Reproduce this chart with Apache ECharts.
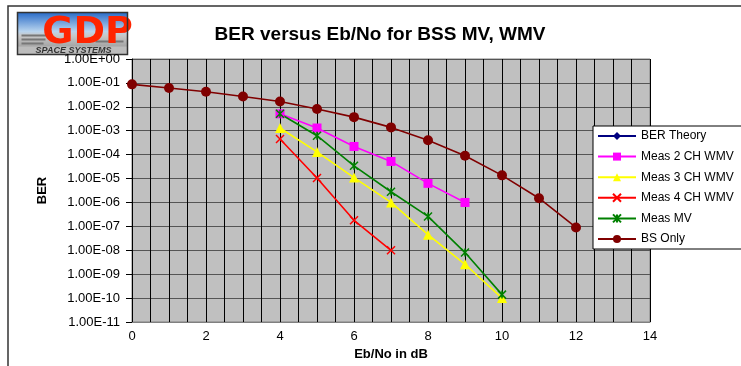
<!DOCTYPE html>
<html>
<head>
<meta charset="utf-8">
<script src="https://cdn.jsdelivr.net/npm/echarts@6/dist/echarts.min.js"></script>
<style>
html, body { margin: 0; padding: 0; background: #fff; }
#main { width: 741px; height: 366px; }
</style>
</head>
<body>
<div id="main"></div>
<script>
// Eb/No in dB
var ebNo = [0, 1, 2, 3, 4, 5, 6, 7, 8, 9, 10, 11, 12];
var berTheory = [];
var meas2ch = [null, null, null, null, 5.1e-3, 1.3e-3, 2.2e-4, 5.2e-5, 6.3e-6, 1.0e-6];
var meas3ch = [null, null, null, null, 1.3e-3, 1.3e-4, 1.1e-5, 1.0e-6, 4.5e-8, 2.6e-9, 1.0e-10];
var meas4ch = [null, null, null, null, 4.5e-4, 1.05e-5, 1.8e-7, 1.0e-8];
var measMV = [null, null, null, null, 5.1e-3, 6.2e-4, 3.4e-5, 2.8e-6, 2.6e-7, 8.0e-9, 1.4e-10];
var bsOnly = [0.087, 0.061, 0.043, 0.027, 0.0166, 0.0081, 0.0037, 0.00138, 4.0e-4, 9.0e-5, 1.36e-5, 1.5e-6, 9.0e-8];

var xMarker = 'path://M0,0L10,10M10,0L0,10';
var starMarker = 'path://M0,0L10,10M10,0L0,10M5,0L5,10';

function pairs(vals) {
    var out = [];
    for (var i = 0; i < vals.length; i++) {
        if (vals[i] != null) out.push([ebNo[i], vals[i]]);
    }
    return out;
}

function sciLabel(v) {
    var e = Math.round(Math.log10(v));
    var s = Math.abs(e) < 10 ? '0' + Math.abs(e) : '' + Math.abs(e);
    return '1.00E' + (e < 0 ? '-' : '+') + s;
}

var chart = echarts.init(document.getElementById('main'), null, { renderer: 'canvas' });

function lineSeries(name, vals, color, symbol, size, stroke) {
    return {
        name: name,
        type: 'line',
        data: pairs(vals),
        symbol: symbol,
        symbolSize: size,
        showSymbol: true,
        lineStyle: { color: color, width: 1.6 },
        itemStyle: stroke ? { color: color, borderColor: color, borderWidth: 1.5 } : { color: color },
        emphasis: { disabled: true },
        animation: false
    };
}

var option = {
    animation: false,
    textStyle: { fontFamily: 'Liberation Sans, Arial, sans-serif' },
    title: {
        text: 'BER versus Eb/No for BSS MV, WMV',
        left: 375,
        top: 20,
        textAlign: 'center',
        textStyle: { fontSize: 19, fontWeight: 'bold', color: '#000', letterSpacing: 0.3 }
    },
    grid: {
        left: 132, right: 91, top: 59, bottom: 43,
        show: true, backgroundColor: '#c0c0c0', borderColor: '#808080', borderWidth: 1
    },
    legend: {
        orient: 'vertical',
        left: 593,
        top: 126,
        backgroundColor: '#fff',
        borderColor: '#000',
        borderWidth: 1,
        borderRadius: 0,
        padding: [3, 12, 3, 4],
        itemWidth: 38,
        itemHeight: 10,
        itemGap: 6.6,
        textStyle: { fontSize: 12, color: '#000', lineHeight: 14, letterSpacing: 0.5 },
        data: ['BER Theory', 'Meas 2 CH WMV', 'Meas 3 CH WMV', 'Meas 4 CH WMV', 'Meas MV', 'BS Only']
    },
    xAxis: {
        type: 'value',
        min: 0, max: 14, interval: 0.5,
        name: 'Eb/No in dB',
        nameLocation: 'middle',
        nameGap: 26,
        nameTextStyle: { fontSize: 13, fontWeight: 'bold', color: '#000' },
        axisLine: { lineStyle: { color: '#808080' } },
        axisTick: { show: false },
        axisLabel: {
            color: '#000', fontSize: 13, margin: 8,
            formatter: function (v) { return (v % 2 === 0) ? '' + v : ''; }
        },
        splitLine: { show: true, lineStyle: { color: '#000', width: 1 } }
    },
    yAxis: {
        type: 'log',
        logBase: 10,
        min: 1e-11, max: 1,
        interval: 1,
        name: 'BER',
        nameLocation: 'middle',
        nameGap: 83,
        nameRotate: 90,
        nameTextStyle: { fontSize: 13, fontWeight: 'bold', color: '#000' },
        axisLine: { show: true, lineStyle: { color: '#000' } },
        axisTick: { show: true, length: 6, lineStyle: { color: '#000' } },
        axisLabel: { color: '#000', fontSize: 13, margin: 12, letterSpacing: 0.8, formatter: sciLabel },
        splitLine: { show: true, lineStyle: { color: '#555', width: 1 } }
    },
    graphic: [
        { type: 'polyline', shape: { points: [[8, 366], [8, 6], [741, 6]] }, style: { stroke: '#333', lineWidth: 1.5, fill: null } },
        {
            type: 'group', left: 15, top: 10,
            children: [
                { type: 'rect', shape: { x: 0, y: 0, width: 110, height: 42 },
                  style: { fill: new echarts.graphic.LinearGradient(0, 0, 0, 1, [
                      { offset: 0, color: '#2a6cc8' }, { offset: 0.45, color: '#b8d4ee' },
                      { offset: 0.55, color: '#c8c8c8' }, { offset: 1, color: '#8a8a8a' }]) } },
                { type: 'rect', shape: { x: 4, y: 22, width: 26, height: 2 }, style: { fill: '#777' } },
                { type: 'rect', shape: { x: 4, y: 26, width: 24, height: 2 }, style: { fill: '#777' } },
                { type: 'rect', shape: { x: 4, y: 30, width: 22, height: 2 }, style: { fill: '#777' } },
                { type: 'rect', shape: { x: 78, y: 28, width: 28, height: 2 }, style: { fill: '#777' } },
                { type: 'text', x: 70, y: 2,
                  style: { text: 'GDP', fill: '#ff2400', font: 'bold 38px "DejaVu Sans", sans-serif', align: 'center', verticalAlign: 'top' } },
                { type: 'rect', shape: { x: 0, y: 34, width: 110, height: 8 }, style: { fill: '#bcbcbc' } },
                { type: 'text', x: 56, y: 38.5,
                  style: { text: 'SPACE SYSTEMS', fill: '#333', font: 'italic bold 9px "Liberation Sans", sans-serif', letterSpacing: 1.2, align: 'center', verticalAlign: 'middle' } },
                { type: 'rect', shape: { x: 0, y: 0, width: 110, height: 42 }, style: { fill: null, stroke: '#333', lineWidth: 1.5 } }
            ]
        }
    ],
    series: [
        lineSeries('BER Theory', berTheory, '#000080', 'diamond', 7, false),
        lineSeries('Meas 2 CH WMV', meas2ch, '#ff00ff', 'rect', 9, false),
        lineSeries('Meas 3 CH WMV', meas3ch, '#ffff00', 'triangle', 10, false),
        lineSeries('Meas 4 CH WMV', meas4ch, '#ff0000', xMarker, 8, true),
        lineSeries('Meas MV', measMV, '#008000', starMarker, 8, true),
        lineSeries('BS Only', bsOnly, '#800000', 'circle', 10, false)
    ]
};

chart.setOption(option);
</script>
</body>
</html>
